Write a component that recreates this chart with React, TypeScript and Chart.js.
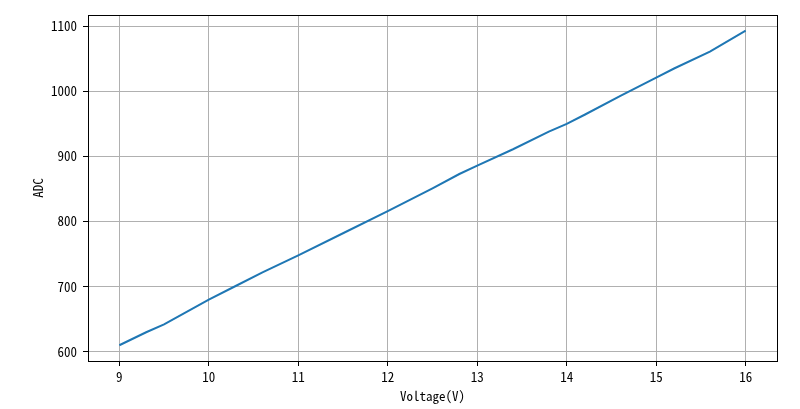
import React, { useEffect, useRef } from "react";
import { Chart, registerables } from "chart.js";

Chart.register(...registerables);

const voltages = [9.0, 9.3, 9.5, 10.0, 10.3, 10.6, 11.0, 11.5, 12.0, 12.5, 12.8, 13.0, 13.4, 13.8, 14.0, 14.2, 14.6, 15.0, 15.2, 15.6, 16.0];
const adcValues = [610, 630, 642, 680, 701, 722, 748, 782, 816, 851, 873, 886, 911, 938, 950, 964, 993, 1021, 1035, 1061, 1093];
const xTicks = [9, 10, 11, 12, 13, 14, 15, 16];
const yTicks = [600, 700, 800, 900, 1000, 1100];

const FONT = "'Noto Sans Mono CJK SC', 'DejaVu Sans Mono', monospace";

export default function App() {
  const ref = useRef<HTMLCanvasElement | null>(null);

  useEffect(() => {
    const canvas = ref.current;
    if (!canvas) return;
    const xMin = Math.min(...voltages);
    const xMax = Math.max(...voltages);
    const yMin = Math.min(...adcValues);
    const yMax = Math.max(...adcValues);
    const xm = (xMax - xMin) * 0.05;
    const ym = (yMax - yMin) * 0.05;

    const framePlugin = {
      id: "frame",
      afterDraw(chart: any) {
        const { ctx, chartArea } = chart;
        ctx.save();
        ctx.strokeStyle = "#000";
        ctx.lineWidth = 1;
        ctx.strokeRect(
          Math.round(chartArea.left) + 0.5,
          Math.round(chartArea.top) + 0.5,
          Math.round(chartArea.right - chartArea.left),
          Math.round(chartArea.bottom - chartArea.top)
        );
        ctx.restore();
      },
    };

    const chart = new Chart(canvas, {
      type: "line",
      data: {
        datasets: [
          {
            data: voltages.map((v, i) => ({ x: v, y: adcValues[i] })),
            borderColor: "#1f77b4",
            borderWidth: 2,
            pointRadius: 0,
            tension: 0,
            fill: false,
          },
        ],
      },
      options: {
        responsive: false,
        animation: false,
        layout: { padding: { left: 0, top: 15, right: 23, bottom: 0 } },
        plugins: { legend: { display: false }, tooltip: { enabled: false } },
        scales: {
          x: {
            type: "linear",
            min: xMin - xm,
            max: xMax + xm,
            afterFit: (s: any) => {
              s.height = 48;
            },
            afterBuildTicks: (s: any) => {
              s.ticks = xTicks.map((v) => ({ value: v }));
            },
            ticks: {
              color: "#000",
              font: { family: FONT, size: 13 },
              padding: 3,
              maxRotation: 0,
              callback: (v: any) => String(v),
            },
            grid: {
              color: "#b0b0b0",
              lineWidth: 1,
              tickColor: "#000",
              tickLength: 5,
            },
            border: { color: "#000", width: 1 },
            title: {
              display: true,
              text: "Voltage(V)",
              color: "#000",
              font: { family: FONT, size: 13 },
              padding: { top: 0, bottom: 5 },
            },
          },
          y: {
            type: "linear",
            min: yMin - ym,
            max: yMax + ym,
            afterFit: (s: any) => {
              s.width = 88;
            },
            afterBuildTicks: (s: any) => {
              s.ticks = yTicks.map((v) => ({ value: v }));
            },
            ticks: {
              color: "#000",
              font: { family: FONT, size: 13 },
              padding: 6,
              callback: (v: any) => String(v),
            },
            grid: {
              color: "#b0b0b0",
              lineWidth: 1,
              tickColor: "#000",
              tickLength: 5,
            },
            border: { color: "#000", width: 1 },
            title: {
              display: true,
              text: "ADC",
              color: "#000",
              font: { family: FONT, size: 13 },
              padding: { top: 30, bottom: 0 },
            },
          },
        },
      },
      plugins: [framePlugin],
    });
    return () => chart.destroy();
  }, []);

  return (
    <div style={{ position: "absolute", left: 0, top: 0, width: 800, height: 409, background: "#fff" }}>
      <canvas ref={ref} width={800} height={409} style={{ display: "block", width: 800, height: 409 }} />
    </div>
  );
}
